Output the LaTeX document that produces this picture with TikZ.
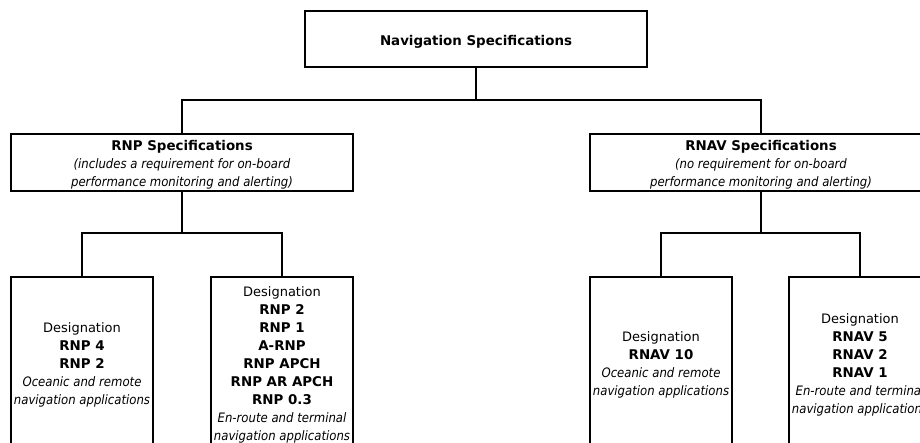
\documentclass[tikz,border=0pt]{standalone}
\usepackage{fontspec}
\setmainfont{DejaVu Sans}[
  BoldFeatures={Scale=1.03},
  ItalicFeatures={FakeStretch=0.9},
  BoldItalicFeatures={FakeStretch=0.9}]
\newcommand\mytopstrut{\rule{0pt}{15pt}}
\begin{document}
\begin{tikzpicture}[x=1pt,y=-1pt,
  box/.style={draw, line width=1.8pt, inner sep=0pt, align=center,
    font=\fontsize{13}{18}\selectfont},
  link/.style={line width=1.8pt}]
\useasboundingbox (0,0) rectangle (920,443);
\clip (0,0) rectangle (920,443);
\node[box, minimum width=342pt, minimum height=56pt] (top) at (476,39)
  {\mytopstrut\textbf{Navigation Specifications}};
\node[box, minimum width=342pt, minimum height=57pt] (rnp) at (182,162.5)
  {\mytopstrut\textbf{RNP Specifications}\\ \textit{(includes a requirement for on-board}\\ \textit{performance monitoring and alerting)}};
\node[box, minimum width=342pt, minimum height=57pt] (rnav) at (761,162.5)
  {\mytopstrut\textbf{RNAV Specifications}\\ \textit{(no requirement for on-board}\\ \textit{performance monitoring and alerting)}};
\node[box, minimum width=142pt, minimum height=170pt] (b1) at (82,362)
  {\mytopstrut Designation\\ \textbf{RNP 4}\\ \textbf{RNP 2}\\ \textit{Oceanic and remote}\\ \textit{navigation applications}};
\node[box, minimum width=142pt, minimum height=170pt] (b2) at (282,362)
  {\mytopstrut Designation\\ \textbf{RNP 2}\\ \textbf{RNP 1}\\ \textbf{A-RNP}\\ \textbf{RNP APCH}\\ \textbf{RNP AR APCH}\\ \textbf{RNP 0.3}\\ \textit{En-route and terminal}\\ \textit{navigation applications}};
\node[box, minimum width=142pt, minimum height=170pt] (b3) at (661,362)
  {\mytopstrut Designation\\ \textbf{RNAV 10}\\ \textit{Oceanic and remote}\\ \textit{navigation applications}};
\node[box, minimum width=142pt, minimum height=170pt] (b4) at (860,362)
  {\mytopstrut Designation\\ \textbf{RNAV 5}\\ \textbf{RNAV 2}\\ \textbf{RNAV 1}\\ \textit{En-route and terminal}\\ \textit{navigation applications}};
\coordinate (j0) at (476,100);
\coordinate (j1) at (182,233);
\coordinate (j2) at (761,233);
\draw[link] (top.south) -- (j0);
\draw[link] (rnp.north) |- (j0) -| (rnav.north);
\draw[link] (rnp.south) -- (j1);
\draw[link] (b1.north) |- (j1) -| (b2.north);
\draw[link] (rnav.south) -- (j2);
\draw[link] (b3.north) |- (j2) -| (b4.north);
\end{tikzpicture}
\end{document}
